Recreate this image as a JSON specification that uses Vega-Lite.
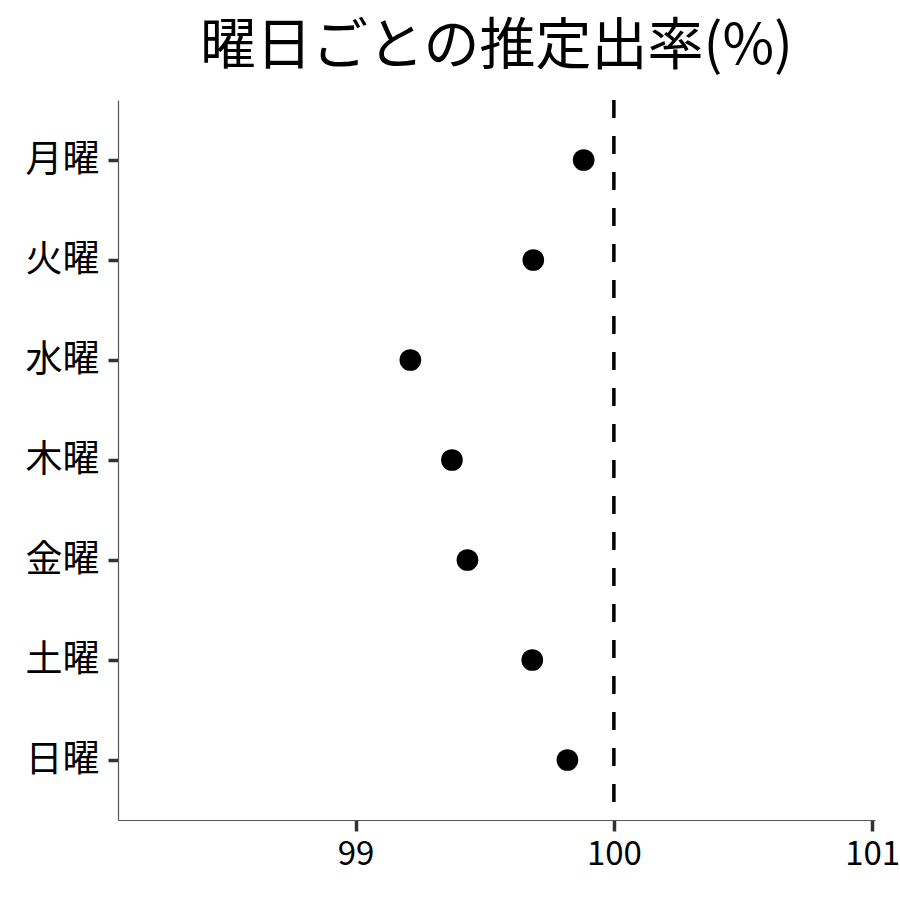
{
  "$schema": "https://vega.github.io/schema/vega-lite/v6.json",
  "width": 757,
  "height": 720,
  "autosize": "none",
  "padding": {"left": 118, "top": 100, "right": 25, "bottom": 80},
  "background": "white",
  "config": {
    "font": "Noto Sans CJK JP",
    "view": {"stroke": null},
    "axis": {"grid": false}
  },
  "title": {
    "text": "曜日ごとの推定出率(%)",
    "fontSize": 56,
    "fontWeight": "normal",
    "color": "black",
    "anchor": "middle",
    "offset": 22
  },
  "data": {
    "values": [
      {"day": "月曜", "rate": 99.883},
      {"day": "火曜", "rate": 99.688},
      {"day": "水曜", "rate": 99.212},
      {"day": "木曜", "rate": 99.373},
      {"day": "金曜", "rate": 99.433},
      {"day": "土曜", "rate": 99.684},
      {"day": "日曜", "rate": 99.82}
    ]
  },
  "layer": [
    {
      "mark": {"type": "rule", "strokeDash": [18, 18], "strokeWidth": 3.5, "color": "black"},
      "data": {"values": [{"ref": 100}]},
      "encoding": {"x": {"field": "ref", "type": "quantitative"}}
    },
    {
      "mark": {"type": "point", "filled": true, "shape": "circle", "size": 470, "color": "black", "opacity": 1},
      "encoding": {
        "x": {
          "field": "rate",
          "type": "quantitative",
          "scale": {"domain": [98.08, 101.011], "nice": false, "zero": false},
          "axis": {
            "title": null,
            "values": [99, 100, 101],
            "format": "d",
            "labelFontSize": 33,
            "labelColor": "black",
            "labelPadding": 7,
            "tickSize": 11,
            "tickWidth": 3.5,
            "tickColor": "#333333",
            "domainColor": "#555555",
            "domainWidth": 1.2
          }
        },
        "y": {
          "field": "day",
          "type": "nominal",
          "sort": ["月曜", "火曜", "水曜", "木曜", "金曜", "土曜", "日曜"],
          "scale": {"type": "point", "padding": 0.6},
          "axis": {
            "title": null,
            "labelFontSize": 37,
            "labelColor": "black",
            "labelPadding": 9,
            "tickSize": 10,
            "tickWidth": 3.5,
            "tickColor": "#333333",
            "domainColor": "#555555",
            "domainWidth": 1.2
          }
        }
      }
    }
  ]
}
